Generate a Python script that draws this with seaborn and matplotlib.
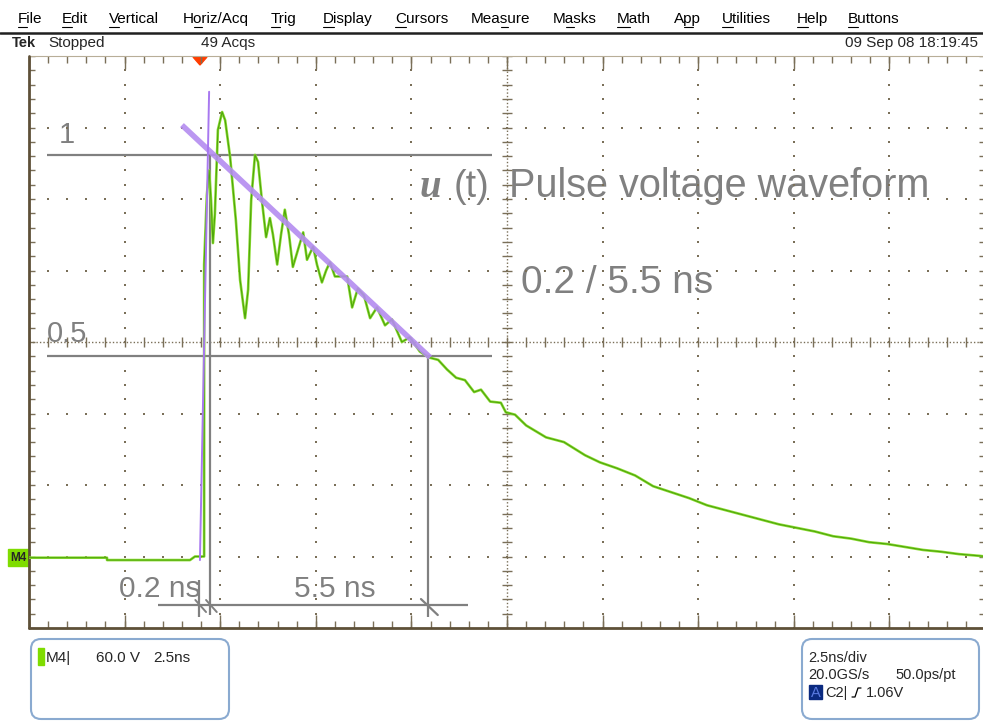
import numpy as np
import pandas as pd
import seaborn as sns
import matplotlib.pyplot as plt
from matplotlib.patches import FancyBboxPatch, Rectangle, Polygon

sns.set_style("white")
plt.rcParams["font.family"] = ["Liberation Sans", "DejaVu Sans"]

W, H = 983, 722

## scope settings: 2.5 ns/div, 60 V/div, ground 3 div below centre
NS_PER_DIV = 2.5
V_PER_DIV = 60.0
T_SPAN = 25.0
V_LOW, V_HIGH = -60.0, 420.0

## M4 trace (time in ns, volts above ground)
base_t = [0.0, 2.04, 2.04, 4.21, 4.34, 4.58]
base_u = [-1, -1, -3, -3, 0, 0]

ring_t = [4.58, 4.65, 4.71, 4.76, 4.81, 4.86, 4.94, 5.05, 5.13, 5.26, 5.41, 5.52,
          5.65, 5.73, 5.81, 5.91, 5.99, 6.09, 6.20, 6.30, 6.38, 6.49, 6.59, 6.69,
          6.80, 6.90, 7.03, 7.17, 7.27, 7.43, 7.53, 7.66, 7.77, 7.87, 8.00, 8.32,
          8.45, 8.60, 8.76, 8.92, 9.10, 9.31, 9.49, 9.75, 9.96, 10.22]
ring_u = [245, 303, 324, 299, 263, 287, 358, 373, 366, 335, 282, 232,
          200, 224, 299, 337, 331, 299, 268, 284, 270, 245, 270, 291,
          270, 243, 257, 272, 249, 260, 245, 230, 240, 247, 235, 235,
          209, 225, 219, 200, 209, 194, 199, 180, 184, 172]

decay_t = [10.46, 10.70, 10.93, 11.17, 11.40, 11.64, 11.82, 12.06, 12.34, 12.47,
           12.71, 13.00, 13.52, 13.99, 14.54, 14.93, 15.38, 15.85, 16.32, 16.79,
           17.26, 17.73, 18.20, 18.67, 19.14, 19.61, 20.08, 20.55, 21.03, 21.50,
           21.97, 22.44, 22.91, 23.38, 23.85, 24.32, 24.87, 25.0]
decay_u = [167, 165, 157, 150, 148, 138, 140, 130, 129, 121,
           119, 110, 100, 96, 85, 79, 74, 68, 59, 54,
           49, 43, 39, 35, 31, 27, 24, 21, 17, 15,
           12, 10.5, 8, 5.5, 4, 2, 0.5, 0]

## annotation drawn over the screenshot
level_one = 337.0
level_half = 168.5
fit_t = [4.00, 10.49]
fit_u = [362.0, 167.0]
rise_t = [4.47, 4.71]
rise_u = [-3.0, 390.0]
mark_t = [4.45, 4.73, 10.43]
dim_u = -40.7

## menu bar
menu_items = ["File", "Edit", "Vertical", "Horiz/Acq", "Trig", "Display", "Cursors",
              "Measure", "Masks", "Math", "App", "Utilities", "Help", "Buttons"]
menu_x = [18, 62, 109, 183, 271, 323, 395, 471, 553, 617, 674, 722, 797, 848]
menu_ul = [0, 0, 0, 1, 0, 0, 0, 3, 1, 0, 1, 0, 0, 0]

GRAY = "#808080"
GRID = "#7a6f58"
FRAME = "#5e5038"
LIGHT_GREEN = "#8ddc34"
DARK_GREEN = "#3f9a00"
PURPLE = "#b48cf0"

fig = plt.figure(figsize=(W / 100, H / 100), dpi=100)
fig.patch.set_facecolor("white")

## pixel overlay for the scope chrome
px = fig.add_axes([0, 0, 1, 1])
px.set_xlim(0, W)
px.set_ylim(H, 0)
px.axis("off")

## graticule axes
ax = fig.add_axes([29 / W, 1 - 628 / H, (985 - 29) / W, (628 - 56) / H])
ax.set_xlim(0, T_SPAN)
ax.set_ylim(V_LOW, V_HIGH)
ax.axis("off")

t_mid = T_SPAN / 2
u_mid = (V_LOW + V_HIGH) / 2
xs_minor = np.arange(0, T_SPAN + 1e-9, NS_PER_DIV / 5)
ys_minor = np.arange(V_LOW, V_HIGH + 1e-9, V_PER_DIV / 5)
xs_major = np.arange(0, T_SPAN + 1e-9, NS_PER_DIV)
ys_major = np.arange(V_LOW, V_HIGH + 1e-9, V_PER_DIV)

dot_x, dot_y = [], []
for x in xs_major[1:-1]:
    if abs(x - t_mid) > 1e-6:
        dot_x += [x] * len(ys_minor)
        dot_y += list(ys_minor)
for y in ys_major[1:-1]:
    if abs(y - u_mid) > 1e-6:
        dot_x += list(xs_minor)
        dot_y += [y] * len(xs_minor)
ax.scatter(dot_x, dot_y, s=2.2, marker="s", color=GRID, linewidths=0, zorder=1)

# centre cross
ax.axvline(t_mid, ls=(0, (1, 1.5)), lw=1, color=GRID, zorder=1)
ax.axhline(u_mid, ls=(0, (1, 1.5)), lw=1, color=GRID, zorder=1)
ax.vlines(xs_minor, u_mid - 4.5, u_mid + 4.5, lw=1, color=GRID, zorder=1)
ax.hlines(ys_minor, t_mid - 0.14, t_mid + 0.14, lw=1, color=GRID, zorder=1)

# frame with ticks
ax.vlines(xs_minor, V_LOW, V_LOW + 6, lw=1, color=GRID, zorder=1)
ax.vlines(xs_major, V_LOW, V_LOW + 11, lw=1, color=GRID, zorder=1)
ax.vlines(xs_minor, V_HIGH - 6, V_HIGH, lw=1, color=GRID, zorder=1)
ax.vlines(xs_major, V_HIGH - 11, V_HIGH, lw=1, color=GRID, zorder=1)
ax.hlines(ys_minor, 0, 0.16, lw=1, color=GRID, zorder=1)
ax.hlines(ys_minor, T_SPAN - 0.16, T_SPAN, lw=1, color=GRID, zorder=1)
ax.plot([0, 0], [V_LOW, V_HIGH], color=FRAME, lw=2, zorder=2, clip_on=False)
ax.plot([0, T_SPAN], [V_LOW, V_LOW], color=FRAME, lw=2, zorder=2, clip_on=False)
ax.plot([0, T_SPAN], [V_HIGH, V_HIGH], color="#b8ae98", lw=0.8, zorder=1, clip_on=False)

## waveform
trace = pd.DataFrame({"t": base_t + ring_t + decay_t,
                      "u": base_u + ring_u + decay_u})
sns.lineplot(data=trace, x="t", y="u", sort=False, estimator=None,
             color=LIGHT_GREEN, lw=1.9, ax=ax, zorder=4)
sns.lineplot(data=trace, x="t", y="u", sort=False, estimator=None,
             color=DARK_GREEN, lw=0.8, alpha=0.8, ax=ax, zorder=5)

## fitted decay line and rise marker
ax.plot(fit_t, fit_u, color=PURPLE, lw=4, alpha=0.9, solid_capstyle="butt", zorder=6)
ax.plot(rise_t, rise_u, color="#a878f0", lw=1.4, zorder=6)

## gray construction lines
ax.hlines([level_one, level_half], 0.47, 12.11, color=GRAY, lw=1.6, zorder=3)
ax.vlines(mark_t[1], -49, level_one, color=GRAY, lw=1.6, zorder=3)
ax.vlines(mark_t[0], -51, -20, color=GRAY, lw=1.6, zorder=3)
ax.vlines(mark_t[2], -51, level_half, color=GRAY, lw=1.6, zorder=3)
ax.hlines(dim_u, 3.37, 11.48, color=GRAY, lw=1.6, zorder=3)
for i, t in enumerate(mark_t):
    if i < 2:
        ax.plot([t - 0.10, t + 0.18], [-36.5, -46.6], color=GRAY, lw=1.4, zorder=3)
    else:
        ax.plot([t - 0.18, t + 0.26], [-35.7, -49.1], color=GRAY, lw=1.6, zorder=3)

## annotation text
px.text(59, 143, "1", fontsize=21, color=GRAY)
px.text(47, 342, "0.5", fontsize=21, color=GRAY)
px.text(420, 197, "u", fontsize=28, color=GRAY, family="Liberation Serif",
        style="italic", weight="bold")
px.text(454, 197, "(t)", fontsize=27, color=GRAY)
px.text(509, 197, "Pulse voltage waveform", fontsize=28.5, color=GRAY)
px.text(521, 293, "0.2 / 5.5 ns", fontsize=28, color=GRAY)
px.text(119, 597, "0.2 ns", fontsize=21.5, color=GRAY)
px.text(294, 597, "5.5 ns", fontsize=21.5, color=GRAY)

## menu bar
fig.canvas.draw()
renderer = fig.canvas.get_renderer()


def text_w(s, **kw):
    tmp = px.text(0, 0, s, **kw)
    w = tmp.get_window_extent(renderer).width if s else 0.0
    tmp.remove()
    return w


for name, x0, k in zip(menu_items, menu_x, menu_ul):
    px.text(x0, 23, name, fontsize=11, color="black")
    a = x0 + text_w(name[:k], fontsize=11)
    b = x0 + text_w(name[:k + 1], fontsize=11)
    px.plot([a, b], [26.5, 26.5], color="black", lw=0.8)
px.plot([0, W], [32.5, 32.5], color="#202020", lw=1.8)

px.text(12, 47, "Tek", fontsize=10.5, weight="bold")
px.text(48, 47, "Stopped", fontsize=11)
px.text(201, 47, "49 Acqs", fontsize=11)
px.text(978, 47, "09 Sep 08 18:19:45", fontsize=11, ha="right")

## trigger position marker
px.add_patch(Polygon([[193, 57], [207, 57], [200, 65]], closed=True,
                     color="#ff3d00", zorder=7))

## channel marker
px.add_patch(Rectangle((8, 549), 21, 17, color="#7fdc00", zorder=7))
px.text(18.5, 558, "M4", fontsize=8.5, weight="bold", ha="center", va="center", zorder=8)

## readout boxes
px.add_patch(FancyBboxPatch((31, 639), 198, 80, boxstyle="round,pad=0,rounding_size=10",
                            fc="white", ec="#8aaad0", lw=1.5))
px.add_patch(FancyBboxPatch((802, 639), 177, 80, boxstyle="round,pad=0,rounding_size=10",
                            fc="white", ec="#8aaad0", lw=1.5))
px.add_patch(Rectangle((38, 648), 6, 17, color="#7fdc00"))
px.text(46, 662, "M4|", fontsize=11)
px.text(96, 662, "60.0 V", fontsize=11)
px.text(153, 662, "2.5ns", fontsize=11)

px.text(808, 662, "2.5ns/div", fontsize=10.5)
px.text(808, 679, "20.0GS/s", fontsize=10.5)
px.text(895, 679, "50.0ps/pt", fontsize=10.5)
px.add_patch(Rectangle((809, 685), 13, 14, color="#0b2a80"))
px.text(815.5, 697, "A", fontsize=10.5, color="#5a7ae0", ha="center")
px.text(825, 697, "C2|", fontsize=10.5)
px.plot([852, 855, 858, 861], [697, 697, 688, 688], color="black", lw=0.9)
px.text(866, 697, "1.06V", fontsize=10.5)

fig.savefig("out.png", dpi=100, facecolor="white")
